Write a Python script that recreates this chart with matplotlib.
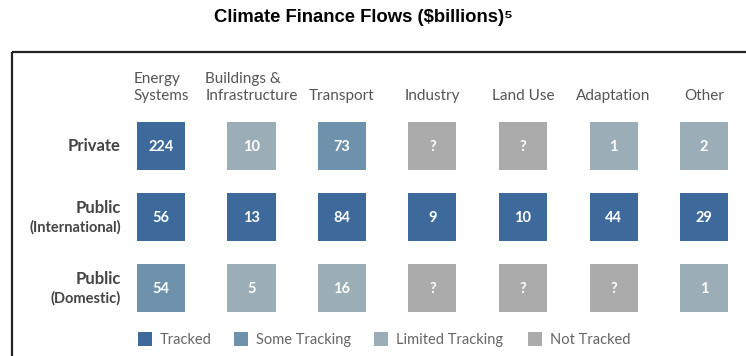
import matplotlib.pyplot as plt
from matplotlib.patches import Rectangle

plt.rcParams['font.family'] = ['Lato', 'DejaVu Sans']

categories = ['Energy\nSystems', 'Buildings &\nInfrastructure', 'Transport',
              'Industry', 'Land Use', 'Adaptation', 'Other']
rows = ['Private', 'Public', 'Public']
row_subs = ['', '(International)', '(Domestic)']

# tracking status: 0 tracked, 1 some, 2 limited, 3 not tracked
status_private = [0, 2, 1, 3, 3, 2, 2]
status_intl = [0, 0, 0, 0, 0, 0, 0]
status_domestic = [1, 2, 2, 3, 3, 3, 2]

values_private = ['224', '10', '73', '?', '?', '1', '2']
values_intl = ['56', '13', '84', '9', '10', '44', '29']
values_domestic = ['54', '5', '16', '?', '?', '?', '1']

status_names = ['Tracked', 'Some Tracking', 'Limited Tracking', 'Not Tracked']
status_colors = ['#3e6a9b', '#6f92ac', '#9badb7', '#ababab']

statuses = [status_private, status_intl, status_domestic]
values = [values_private, values_intl, values_domestic]

W, H = 746, 356
fig = plt.figure(figsize=(W / 100, H / 100), dpi=100)
ax = fig.add_axes([0, 0, 1, 1])

# column i centre at pixel 161 + 90.5*i, row j centre at pixel 146 + 71*j
x0, dx = 161.0, 90.5
y0, dy = 146.0, 71.0
ax.set_xlim(-x0 / dx, (W - x0) / dx)
ax.set_ylim((H - y0) / dy, -y0 / dy)
ax.axis('off')

sq_w = 48 / dx
sq_h = 48 / dy

for j in range(len(rows)):
    for i in range(len(categories)):
        c = status_colors[statuses[j][i]]
        ax.add_patch(Rectangle((i - sq_w / 2, j - sq_h / 2), sq_w, sq_h,
                               facecolor=c, edgecolor='none'))
        ax.text(i, j + 0.01, values[j][i], ha='center', va='center',
                color='white', fontsize=10.5, fontweight='bold')

# category headers
for i, cat in enumerate(categories):
    ax.text(i, (103 - y0) / dy, cat, ha='center', va='bottom',
            multialignment='left', color='#555555', fontsize=11,
            linespacing=1.3)

# row labels
lab_x = (121 - x0) / dx
for j in range(len(rows)):
    if row_subs[j]:
        ax.text(lab_x, j - 0.13, rows[j], ha='right', va='center',
                color='#444444', fontsize=12, fontweight='bold')
        ax.text(lab_x, j + 0.14, row_subs[j], ha='right', va='center',
                color='#444444', fontsize=10.5, fontweight='bold')
    else:
        ax.text(lab_x, j, rows[j], ha='right', va='center',
                color='#444444', fontsize=12, fontweight='bold')

# legend
leg_px = [138, 234, 374, 528]
for k, name in enumerate(status_names):
    fx = leg_px[k] / W
    fig.patches.append(Rectangle((fx, 1 - 346 / H), 14 / W, 14 / H,
                                 transform=fig.transFigure,
                                 facecolor=status_colors[k], edgecolor='none'))
    fig.text(fx + 22 / W, 1 - 340 / H, name, ha='left', va='center',
             color='#666666', fontsize=10.5)

# frame
ax.plot([12 / W, 1], [1 - 52 / H, 1 - 52 / H], transform=fig.transFigure,
        color='#222222', lw=1.6, solid_capstyle='butt', clip_on=False)
ax.plot([12 / W, 12 / W], [1 - 52 / H, 0], transform=fig.transFigure,
        color='#222222', lw=1.6, solid_capstyle='butt', clip_on=False)

fig.text(363 / W, 1 - 18 / H, 'Climate Finance Flows ($billions)\u2075',
         ha='center', va='center', fontsize=13.3, fontweight='bold',
         family=['Liberation Sans', 'DejaVu Sans'])

fig.savefig('out.png', dpi=100)
